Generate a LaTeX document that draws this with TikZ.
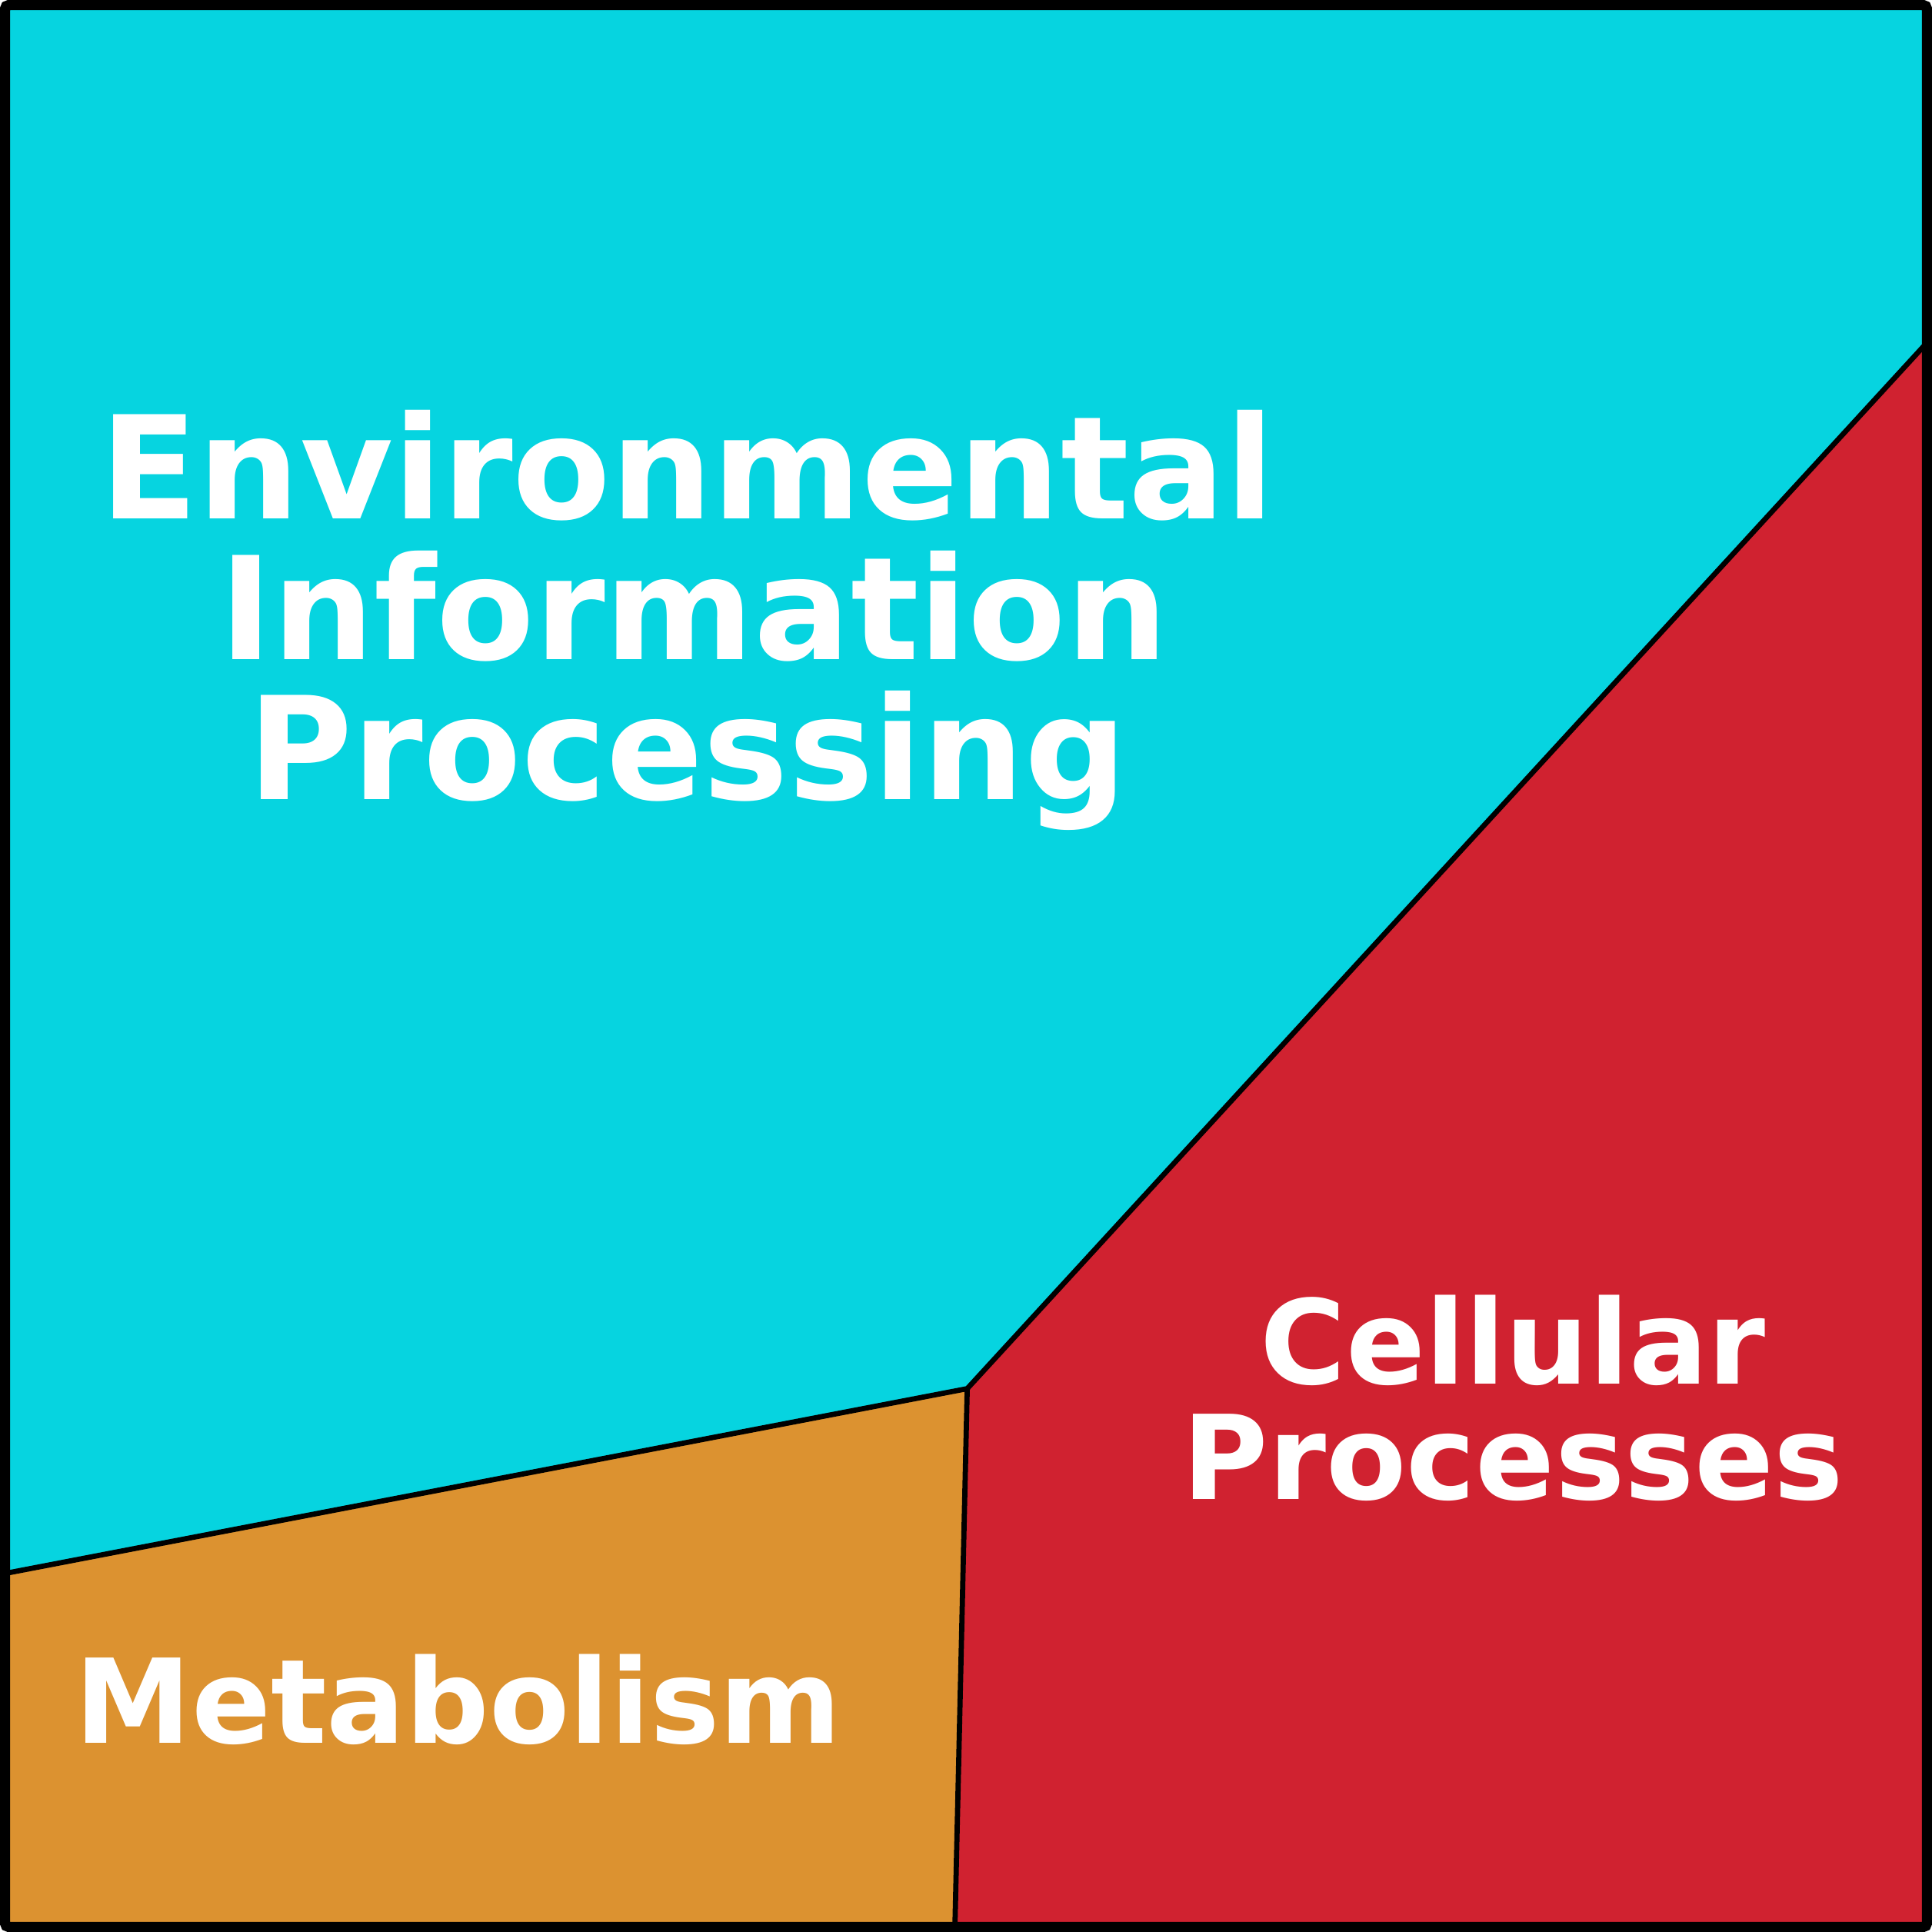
\documentclass[tikz,border=0pt]{standalone}
\usepackage{fontspec}
\setmainfont{DejaVu Sans}
\definecolor{envcyan}{HTML}{06D4E0}
\definecolor{cellred}{HTML}{D02230}
\definecolor{metorange}{HTML}{DC9230}
\tikzset{
  region/.style={draw=black,line width=1.2pt,line join=round},
  lbl/.style={text=white,font=\fontsize{33}{32.5}\selectfont\bfseries,align=center,anchor=base,inner sep=0pt},
  small lbl/.style={lbl,font=\fontsize{27}{27}\selectfont\bfseries}
}
\begin{document}
\begin{tikzpicture}[x=0.01cm,y=-0.01cm]
\useasboundingbox (0,0) rectangle (1568,1568);
\coordinate (tl) at (4,4);
\coordinate (tr) at (1564,4);
\coordinate (br) at (1564,1564);
\coordinate (bl) at (4,1564);
\coordinate (re) at (1564,278);
\coordinate (mid) at (785,1127);
\coordinate (le) at (4,1277);
\coordinate (bm) at (775,1564);
\fill[envcyan] (tl)--(tr)--(re)--(mid)--(le)--cycle;
\fill[cellred] (re)--(br)--(bm)--(mid)--cycle;
\fill[metorange] (le)--(mid)--(bm)--(bl)--cycle;
\draw[region] (re)--(mid)--(le);
\draw[region] (mid)--(bm);
\draw[line width=2.4pt,rounded corners=1pt] (tl) rectangle (br);
\node[lbl] (env) at (558,421) {Environmental};
\node[lbl] (info) at (563,535) {Information};
\node[lbl] (proc) at (558,649) {Processing};
\node[small lbl] (cell) at (1228,1123) {Cellular};
\node[small lbl] (cproc) at (1228,1217) {Processes};
\node[small lbl] (met) at (372,1415) {Metabolism};
\end{tikzpicture}
\end{document}
